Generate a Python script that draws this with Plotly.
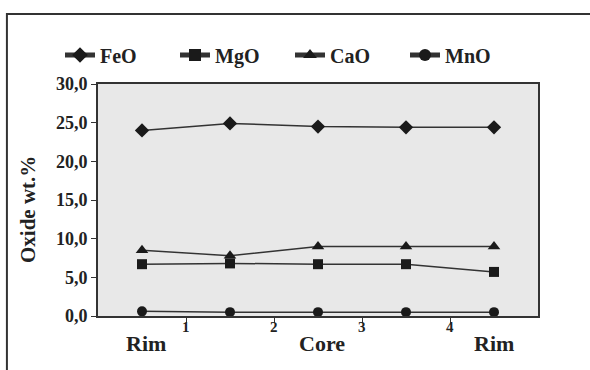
import plotly.graph_objects as go

positions = [0.5, 1.5, 2.5, 3.5, 4.5]
feo = [24.0, 24.9, 24.5, 24.4, 24.4]
mgo = [6.7, 6.8, 6.7, 6.7, 5.7]
cao = [8.5, 7.8, 9.0, 9.0, 9.0]
mno = [0.6, 0.5, 0.5, 0.5, 0.5]
series_names = ["FeO", "MgO", "CaO", "MnO"]
symbols = ["diamond", "square", "triangle-up", "circle"]
sizes = [11, 10, 11, 10]
y_ticks = [0, 5, 10, 15, 20, 25, 30]
y_tick_labels = ["0,0", "5,0", "10,0", "15,0", "20,0", "25,0", "30,0"]
x_ticks = [1, 2, 3, 4]
x_tick_labels = ["1", "2", "3", "4"]
zone_labels = ["Rim", "Core", "Rim"]
zone_pos = [0.55, 2.55, 4.5]

FONT = "Liberation Serif"
INK = "#222222"

fig = go.Figure()
for name, vals, sym, sz in zip(series_names, [feo, mgo, cao, mno], symbols, sizes):
    fig.add_trace(go.Scatter(
        x=positions, y=vals, name="<b>" + name + "</b>", mode="lines+markers",
        line=dict(color="#333333", width=1.5),
        marker=dict(symbol=sym, size=sz, color="#1a1a1a"),
    ))

for lab, xp in zip(zone_labels, zone_pos):
    fig.add_annotation(x=xp, y=-0.118, xref="x", yref="paper", text="<b>" + lab + "</b>",
                       showarrow=False, yanchor="middle",
                       font=dict(family=FONT, size=22, color=INK))

for t, xp in zip(x_tick_labels, x_ticks):
    fig.add_annotation(x=xp, y=-0.047, xref="x", yref="paper", text="<b>" + t + "</b>",
                       showarrow=False, yanchor="middle",
                       font=dict(family=FONT, size=15, color=INK))

fig.add_annotation(x=-0.159, y=0.457, xref="paper", yref="paper", text="<b>Oxide wt.%</b>",
                   textangle=-90, showarrow=False, xanchor="center", yanchor="middle",
                   font=dict(family=FONT, size=21, color=INK))

fig.add_shape(type="rect", xref="paper", yref="paper",
              x0=-0.207, y0=1.302, x1=2, y1=-1,
              line=dict(color="#333333", width=2), fillcolor="rgba(0,0,0,0)", layer="below")

fig.update_layout(
    width=590, height=370,
    margin=dict(l=98, r=52, t=84, b=54, autoexpand=False),
    paper_bgcolor="white", plot_bgcolor="#e8e8e8",
    font=dict(family=FONT, color=INK),
    showlegend=True,
    legend=dict(orientation="h", x=(60 - 98) / 440, xanchor="left",
                y=(316 - 55) / 232, yanchor="middle",
                entrywidth=70, entrywidthmode="pixels",
                font=dict(family=FONT, size=20, color=INK), bgcolor="rgba(0,0,0,0)",
                itemsizing="constant"),
    xaxis=dict(range=[0, 5], tickvals=x_ticks, showticklabels=False,
               showgrid=False, zeroline=False, showline=True, linecolor="#333333", linewidth=2,
               mirror=True, ticks="outside", ticklen=5, tickcolor="#333333", automargin=False),
    yaxis=dict(range=[0, 30], tickvals=y_ticks, ticktext=["<b>" + t + "</b>" for t in y_tick_labels],
               showgrid=False, zeroline=False, showline=True, linecolor="#333333", linewidth=2,
               mirror=True, ticks="outside", ticklen=5, tickcolor="#333333", automargin=False,
               tickfont=dict(family=FONT, size=18, color=INK)),
)

fig.write_html("out.html", config={"displayModeBar": False},
               post_script="document.body.style.margin='0';")
